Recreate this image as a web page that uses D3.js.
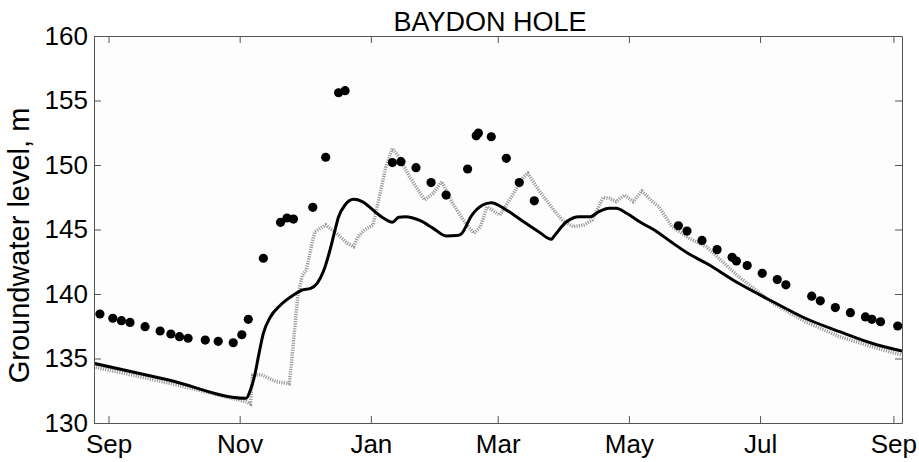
<!DOCTYPE html>
<html>
<head>
<meta charset="utf-8">
<script src="https://cdn.jsdelivr.net/npm/d3@7/dist/d3.min.js"></script>
<style>
  html, body { margin: 0; padding: 0; background: #ffffff; }
  svg { display: block; font-family: "Liberation Sans", Arial, sans-serif; }
</style>
</head>
<body>
<script>
// Baydon Hole borehole: observed groundwater levels and two model runs, Sep 2001 – Sep 2002
const chartTitle = "BAYDON HOLE";
const yLabel = "Groundwater level, m";

// x-axis ticks (first of each second month) and y-axis ticks
const monthTicks = ["2001-09-01", "2001-11-01", "2002-01-01", "2002-03-01", "2002-05-01", "2002-07-01", "2002-09-01"];
const levelTicks = [130, 135, 140, 145, 150, 155, 160];

// Observed levels (dots)
const obsDates = [
  "2001-08-28", "2001-09-03", "2001-09-07", "2001-09-11", "2001-09-18", "2001-09-25", "2001-09-30",
  "2001-10-04", "2001-10-08", "2001-10-16", "2001-10-22", "2001-10-29", "2001-11-02", "2001-11-05",
  "2001-11-12", "2001-11-20", "2001-11-23", "2001-11-26", "2001-12-05", "2001-12-11", "2001-12-17",
  "2001-12-20", "2002-01-11", "2002-01-15", "2002-01-22", "2002-01-29", "2002-02-05", "2002-02-15",
  "2002-02-19", "2002-02-20", "2002-02-26", "2002-03-05", "2002-03-11", "2002-03-18", "2002-05-24",
  "2002-05-28", "2002-06-04", "2002-06-11", "2002-06-18", "2002-06-20", "2002-06-25", "2002-07-02",
  "2002-07-09", "2002-07-13", "2002-07-25", "2002-07-29", "2002-08-05", "2002-08-12", "2002-08-19",
  "2002-08-22", "2002-08-26", "2002-09-03"
];
const obsLevels = [
  138.45, 138.12, 137.93, 137.80, 137.47, 137.13, 136.90,
  136.69, 136.57, 136.43, 136.33, 136.22, 136.84, 138.04,
  142.77, 145.56, 145.89, 145.81, 146.72, 150.60, 155.60,
  155.76, 150.19, 150.26, 149.79, 148.64, 147.67, 149.69,
  152.26, 152.48, 152.19, 150.52, 148.64, 147.22, 145.29,
  144.88, 144.15, 143.44, 142.84, 142.56, 142.21, 141.60,
  141.12, 140.71, 139.83, 139.47, 138.95, 138.55, 138.22,
  138.04, 137.85, 137.52
];

// Model A (solid black line)
const modelADates = [
  "2001-08-25", "2001-09-29", "2001-11-04", "2001-11-06", "2001-11-08", "2001-11-10", "2001-11-12",
  "2001-11-15", "2001-11-20", "2001-11-26", "2001-11-30", "2001-12-04", "2001-12-07", "2001-12-10",
  "2001-12-13", "2001-12-15", "2001-12-17", "2001-12-20", "2001-12-24", "2001-12-28", "2002-01-02",
  "2002-01-07", "2002-01-11", "2002-01-14", "2002-01-17", "2002-01-24", "2002-01-30", "2002-02-05",
  "2002-02-10", "2002-02-12", "2002-02-17", "2002-02-22", "2002-02-26", "2002-03-05", "2002-03-13",
  "2002-03-20", "2002-03-26", "2002-03-27", "2002-04-02", "2002-04-08", "2002-04-13", "2002-04-17",
  "2002-04-22", "2002-04-25", "2002-04-30", "2002-05-06", "2002-05-14", "2002-05-21", "2002-05-29",
  "2002-06-06", "2002-06-21", "2002-07-07", "2002-07-22", "2002-08-07", "2002-08-22", "2002-09-05"
];
const modelALevels = [
  134.63, 133.33, 131.91, 132.56, 133.72, 135.40, 136.95,
  138.14, 139.15, 139.92, 140.31, 140.44, 140.83, 141.78,
  143.41, 144.73, 145.99, 146.90, 147.34, 147.16, 146.51,
  145.87, 145.56, 145.95, 145.99, 145.68, 145.09, 144.50,
  144.53, 144.65, 146.12, 146.90, 147.08, 146.51, 145.60,
  144.83, 144.24, 144.44, 145.60, 145.99, 145.99, 146.38,
  146.64, 146.64, 146.26, 145.60, 144.83, 143.99, 143.10,
  142.38, 140.83, 139.40, 138.12, 137.08, 136.18, 135.57
];

// Model B (grey dotted line)
const modelBDates = [
  "2001-08-25", "2001-09-29", "2001-11-04", "2001-11-06", "2001-11-07", "2001-11-11", "2001-11-18",
  "2001-11-24", "2001-11-25", "2001-11-28", "2001-11-30", "2001-12-02", "2001-12-05", "2001-12-06",
  "2001-12-11", "2001-12-16", "2001-12-21", "2001-12-24", "2001-12-26", "2001-12-29", "2002-01-02",
  "2002-01-06", "2002-01-08", "2002-01-11", "2002-01-14", "2002-01-19", "2002-01-23", "2002-01-26",
  "2002-01-30", "2002-02-03", "2002-02-08", "2002-02-14", "2002-02-18", "2002-02-21", "2002-02-24",
  "2002-03-02", "2002-03-07", "2002-03-13", "2002-03-15", "2002-03-20", "2002-03-27", "2002-03-31",
  "2002-04-05", "2002-04-10", "2002-04-14", "2002-04-19", "2002-04-22", "2002-04-25", "2002-04-29",
  "2002-05-03", "2002-05-07", "2002-05-12", "2002-05-15", "2002-05-21", "2002-05-29", "2002-06-06",
  "2002-06-21", "2002-07-07", "2002-07-22", "2002-08-07", "2002-08-22", "2002-09-05"
];
const modelBLevels = [
  134.36, 133.10, 131.65, 131.47, 133.70, 133.75, 133.20,
  133.05, 134.50, 139.80, 141.40, 141.86, 144.19, 144.83,
  145.35, 144.71, 143.93, 143.67, 144.44, 144.96, 145.35,
  148.32, 149.87, 151.29, 150.64, 149.09, 148.06, 147.29,
  147.81, 148.71, 147.03, 145.48, 144.71, 145.22, 146.77,
  146.12, 147.42, 149.09, 149.36, 148.06, 146.51, 145.74,
  145.22, 145.35, 145.74, 147.48, 147.42, 147.16, 147.67,
  147.16, 147.98, 147.16, 146.77, 145.22, 144.32, 143.67,
  141.34, 139.28, 137.85, 136.69, 135.91, 135.27
];

const parse = d3.timeParse("%Y-%m-%d");
const zip = (ds, vs) => ds.map((d, i) => ({ date: parse(d), value: vs[i] }));
const observed = zip(obsDates, obsLevels);
const modelA = zip(modelADates, modelALevels);
const modelB = zip(modelBDates, modelBLevels);

const W = 919, H = 462;
const margin = { top: 36, right: 17, bottom: 39, left: 94 };
const iw = W - margin.left - margin.right;
const ih = H - margin.top - margin.bottom;

const svg = d3.select("body").append("svg").attr("width", W).attr("height", H);

const x = d3.scaleTime()
  .domain([new Date(2001, 7, 25, 6), new Date(2002, 8, 5)])
  .range([0, iw]);
const y = d3.scaleLinear().domain([130, 160]).range([ih, 0]);

const g = svg.append("g").attr("transform", `translate(${margin.left},${margin.top})`);

g.append("rect").attr("width", iw).attr("height", ih).attr("fill", "#fdfdfd");

g.append("clipPath").attr("id", "plotClip")
  .append("rect").attr("width", iw).attr("height", ih);

const plot = g.append("g").attr("clip-path", "url(#plotClip)");

// Model B: stepped grey dotted trace
plot.append("path")
  .datum(modelB)
  .attr("fill", "none")
  .attr("stroke", "#9a9a9a")
  .attr("stroke-width", 3.5)
  .attr("stroke-dasharray", "1.2,1.2")
  .attr("d", d3.line().x(d => x(d.date)).y(d => y(d.value)));

// Model A: smooth solid black trace
plot.append("path")
  .datum(modelA)
  .attr("fill", "none")
  .attr("stroke", "#000")
  .attr("stroke-width", 3)
  .attr("stroke-linejoin", "round")
  .attr("d", d3.line().curve(d3.curveMonotoneX).x(d => x(d.date)).y(d => y(d.value)));

// Observed levels
plot.selectAll("circle.obs")
  .data(observed)
  .join("circle")
  .attr("class", "obs")
  .attr("cx", d => x(d.date))
  .attr("cy", d => y(d.value))
  .attr("r", 4.6)
  .attr("fill", "#000");

// Axes: boxed frame with inward ticks on all four sides
const tickDates = monthTicks.map(parse);
const axisColor = "#555";
const fontSize = 26;

function styleAxis(sel) {
  sel.select(".domain").attr("stroke", axisColor);
  sel.selectAll(".tick line").attr("stroke", axisColor);
  sel.selectAll(".tick text").attr("fill", "#000").attr("font-size", fontSize)
    .attr("font-family", '"Liberation Sans", Arial, sans-serif');
}

g.append("g").attr("transform", `translate(0,${ih})`)
  .call(d3.axisBottom(x).tickValues(tickDates).tickFormat(d3.timeFormat("%b"))
    .tickSizeInner(-7).tickSizeOuter(0).tickPadding(11.5))
  .call(styleAxis);

g.append("g")
  .call(d3.axisTop(x).tickValues(tickDates).tickFormat("")
    .tickSizeInner(-7).tickSizeOuter(0))
  .call(styleAxis);

g.append("g")
  .call(d3.axisLeft(y).tickValues(levelTicks).tickFormat(d3.format("d"))
    .tickSizeInner(-7).tickSizeOuter(0).tickPadding(6))
  .call(styleAxis);

g.append("g").attr("transform", `translate(${iw},0)`)
  .call(d3.axisRight(y).tickValues(levelTicks).tickFormat("")
    .tickSizeInner(-7).tickSizeOuter(0))
  .call(styleAxis);

// Title and y-axis label
svg.append("text")
  .attr("x", 490).attr("y", 31)
  .attr("text-anchor", "middle")
  .attr("font-size", 27)
  .attr("fill", "#000")
  .text(chartTitle);

svg.append("text")
  .attr("transform", "translate(28.5,245.5) rotate(-90)")
  .attr("text-anchor", "middle")
  .attr("font-size", 29)
  .attr("fill", "#000")
  .text(yLabel);
</script>
</body>
</html>
